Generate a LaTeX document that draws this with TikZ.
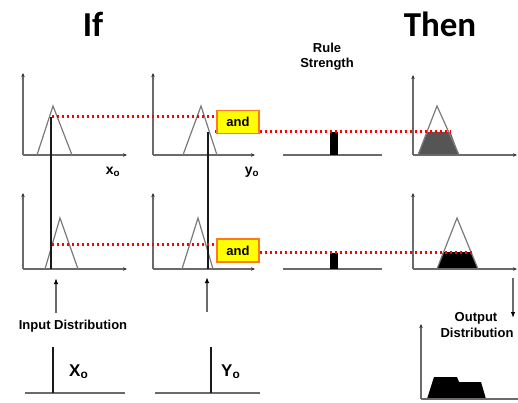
\documentclass[tikz,border=0pt]{standalone}
\usepackage{fontspec}
\setmainfont{Liberation Sans}
\newfontfamily\headfont{Carlito}
\usetikzlibrary{arrows.meta}
\pgfdeclarelayer{front}
\pgfsetlayers{main,front}
\definecolor{axisgray}{HTML}{6A6A6A}
\definecolor{trigray}{HTML}{7A7A7A}
\definecolor{andfill}{HTML}{FFFF00}
\definecolor{andborder}{HTML}{FF7A1A}
\definecolor{fillgray}{HTML}{555555}
\tikzset{
  axis/.style={draw=axisgray, line width=1.3pt, -{Stealth[length=4pt,width=3.5pt,color=black!80]}},
  baseline line/.style={draw=axisgray, line width=1.3pt},
  tri/.style={draw=trigray, line width=1.2pt, line join=miter},
  spike/.style={draw=black!90, line width=2.4pt},
  reddots/.style={draw=red, line width=3pt, dash pattern=on 2.4pt off 2.6pt},
  andbox/.style={draw=andborder, fill=andfill, line width=1.3pt, minimum width=42pt, minimum height=23pt, inner sep=0pt, font=\fontsize{13}{15}\selectfont\bfseries},
  lbl/.style={inner sep=0pt, font=\fontsize{13}{15}\selectfont\bfseries},
  head/.style={inner sep=0pt, anchor=base, font=\headfont\fontsize{35}{40}\selectfont\bfseries},
  uparrow/.style={draw=axisgray, line width=1.1pt, -{Latex[length=6pt,width=4.5pt,color=black]}},
}
\begin{document}
\begin{tikzpicture}[x=1pt,y=-1pt]
\useasboundingbox (0,0) rectangle (518,403);

% headings
\node[head] (if) at (93,37) {If};
\node[head] (then) at (440,37) {Then};
\node[lbl, anchor=base] (rule) at (327,53) {Rule};
\node[lbl, anchor=base] (strength) at (327,68) {Strength};

% ---------- top row ----------
\draw[axis] (23,155) -- (23,73);
\draw[axis] (23,155) -- (127,155);
\draw[tri] (37,155) -- (53,106) -- (72,155);
\draw[axis] (153,155) -- (153,73);
\draw[axis] (153,155) -- (255,155);
\draw[tri] (183,155) -- (201,106) -- (217,155);
\draw[baseline line] (283,155) -- (382,155);
\fill[black] (330,132) rectangle (338,155);
\fill[fillgray] (418,155) -- (427.5,132) -- (450.5,132) -- (459,155) -- cycle;
\draw[axis] (413,155) -- (413,75);
\draw[axis] (413,155) -- (517,155);
\draw[tri] (418,155) -- (437,106) -- (459,155);

\node[lbl, font=\fontsize{14}{16}\selectfont\bfseries] (xo) at (113,172) {x\textsubscript{o}};
\node[lbl, font=\fontsize{14}{16}\selectfont\bfseries] (yo) at (252,172) {y\textsubscript{o}};

% ---------- middle row ----------
\draw[axis] (23,269) -- (23,193);
\draw[axis] (23,269) -- (127,269);
\draw[tri] (45,269) -- (60,218) -- (78,269);
\draw[axis] (153,269) -- (153,193);
\draw[axis] (153,269) -- (255,269);
\draw[tri] (182,269) -- (198,218) -- (213,269);
\draw[baseline line] (283,269) -- (382,269);
\fill[black] (330,253) rectangle (338,269);
\fill[black] (437,269) -- (443.1,252) -- (471.2,252) -- (478,269) -- cycle;
\draw[axis] (413,269) -- (413,193);
\draw[axis] (413,269) -- (517,269);
\draw[tri] (437,269) -- (457,218) -- (478,269);

% thick input lines
\coordinate (s1top) at (51,117);
\coordinate (s1bot) at (51,269);
\coordinate (s2top) at (208,132);
\coordinate (s2bot) at (208,269);
\draw[spike] (s1top) -- (s1bot);
\draw[spike] (s2top) -- (s2bot);

% and boxes (front layer) and red dotted lines
\begin{pgfonlayer}{front}
\node[andbox] (and1) at (238,122) {and};
\node[andbox] (and2) at (238,250.5) {and};
\end{pgfonlayer}
\coordinate (r1a) at (52,117);
\coordinate (r1b) at (450,132);
\coordinate (r1c) at (215,132);
\coordinate (r2a) at (52,244);
\coordinate (r2b) at (472,252.5);
\draw[reddots] (r1a) -- (and1.west |- r1a);
\draw[reddots] (r1c) -- (and1.west |- r1c);
\draw[reddots] (and1.east |- r1b) -- (r1b);
\draw[reddots] (r2a) -- (and2.west |- r2a);
\draw[reddots] (and2.east |- r2b) -- (r2b);

% ---------- input arrows ----------
\coordinate (a1s) at (56,313);
\coordinate (a1e) at (56,278);
\coordinate (a2s) at (207,312);
\coordinate (a2e) at (207,277);
\draw[uparrow] (a1s) -- (a1e);
\draw[uparrow] (a2s) -- (a2e);
\node[lbl, anchor=base] (input) at (73,329) {Input Distribution};

% bottom input spikes
\draw[baseline line] (25,393) -- (125,393);
\draw[spike] (53,347) -- (53,393);
\node[lbl, anchor=base west, font=\fontsize{17}{19}\selectfont\bfseries] (Xo) at (69,376) {X\textsubscript{o}};
\draw[baseline line] (155,393) -- (260,393);
\draw[spike] (211,347) -- (211,393);
\node[lbl, anchor=base west, font=\fontsize{17}{19}\selectfont\bfseries] (Yo) at (221,376) {Y\textsubscript{o}};

% ---------- output ----------
\coordinate (d1s) at (513,278);
\coordinate (d1e) at (513,318);
\draw[uparrow] (d1s) -- (d1e);
\node[lbl, anchor=base] (out1) at (476,321) {Output};
\node[lbl, anchor=base] (out2) at (477,337) {Distribution};
\fill[black] (427,399) -- (434,377) -- (457,377) -- (459,382) -- (481,382) -- (486,399) -- cycle;
\draw[axis] (421,399) -- (421,324);
\draw[baseline line] (421,399) -- (518,399);
\end{tikzpicture}
\end{document}
